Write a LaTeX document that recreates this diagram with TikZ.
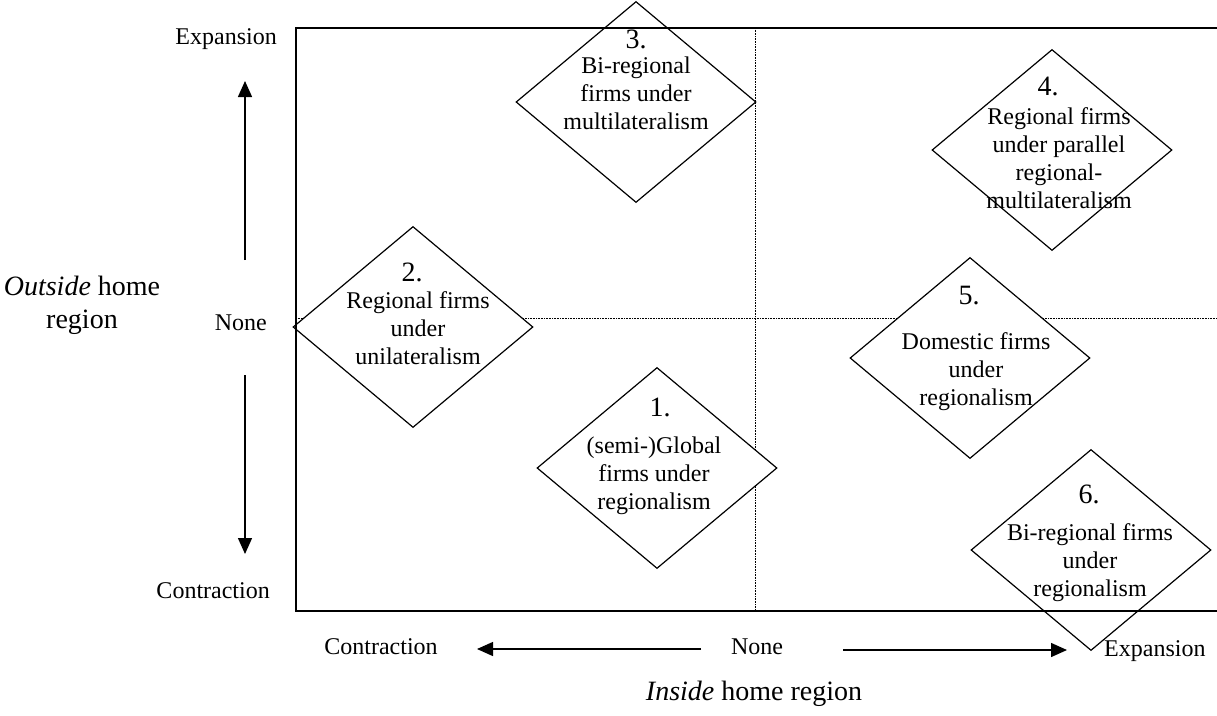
\documentclass[tikz,border=0pt]{standalone}
\usepackage{fontspec}
\setmainfont{Liberation Serif}
\usetikzlibrary{shapes.geometric,arrows.meta}
\begin{document}
\begin{tikzpicture}[x=1pt,y=-1pt,
  dia/.style={draw, diamond, fill=white, minimum width=240pt, minimum height=201pt, inner sep=0pt, line width=1.2pt},
  num/.style={anchor=base, inner sep=0pt, font=\fontsize{28}{30}\selectfont},
  body/.style={anchor=base, align=center, inner sep=0pt, font=\fontsize{24}{28}\selectfont},
  lab/.style={inner sep=0pt, font=\fontsize{24}{28}\selectfont},
  ttl/.style={anchor=base, align=center, inner sep=0pt, font=\fontsize{28}{33}\selectfont},
  grid/.style={line width=0.8pt, dash pattern=on 0.7pt off 0.9pt},
  frame/.style={line width=2pt},
  axarrow/.style={line width=1.4pt, -{Triangle[length=16pt,width=14pt]}}]
\useasboundingbox (0,0) rectangle (1217,715);

% grid coordinates
\coordinate (vt) at (755,28);
\coordinate (vb) at (755,611);
\coordinate (hl) at (296,318);
\coordinate (hr) at (1217,318);
\draw[grid] (vt) -- (vb);
\draw[grid] (hl) -- (hr);

% diamonds
\node[dia] (d1) at (657,468) {};
\node[dia] (d2) at (413,327) {};
\node[dia] (d3) at (636,102) {};
\node[dia] (d4) at (1052,150) {};
\node[dia] (d5) at (970,358) {};
\node[dia] (d6) at (1091,550) {};

% frame (open on the right)
\coordinate (ftr) at (1217,28);
\coordinate (ftl) at (296,28);
\coordinate (fbl) at (296,611);
\coordinate (fbr) at (1217,611);
\draw[frame] (ftr) -- (ftl) -- (fbl) -- (fbr);

% diamond texts (base anchor = baseline of last line)
\node[num]  (n1) at (660,416) {1.};
\node[body] (t1) at (654,509) {(semi-)Global\\firms under\\regionalism};
\node[num]  (n2) at (412,281) {2.};
\node[body] (t2) at (418,364) {Regional firms\\under\\unilateralism};
\node[num]  (n3) at (636,48) {3.};
\node[body] (t3) at (636,129) {Bi-regional\\firms under\\multilateralism};
\node[num]  (n4) at (1048,95) {4.};
\node[body] (t4) at (1059,208) {Regional firms\\under parallel\\regional-\\multilateralism};
\node[num]  (n5) at (969,304) {5.};
\node[body] (t5) at (976,405) {Domestic firms\\under\\regionalism};
\node[num]  (n6) at (1089,503) {6.};
\node[body] (t6) at (1090,596) {Bi-regional firms\\under\\regionalism};

% vertical axis
\node[lab, anchor=base east] (yexp) at (277,44) {Expansion};
\node[lab, anchor=base east] (ynone) at (267,330) {None};
\node[lab, anchor=base east] (ycon) at (270,598) {Contraction};
\coordinate (uat) at (245,260);
\coordinate (uah) at (245,81);
\coordinate (dat) at (245,375);
\coordinate (dah) at (245,554);
\draw[axarrow] (uat) -- (uah);
\draw[axarrow] (dat) -- (dah);
\node[ttl] (ytitle) at (82,328) {\textit{Outside} home\\region};

% horizontal axis
\node[lab, anchor=base] (xcon) at (381,654) {Contraction};
\node[lab, anchor=base] (xnone) at (757,654) {None};
\node[lab, anchor=base west] (xexp) at (1104,656) {Expansion};
\coordinate (lat) at (701,649);
\coordinate (lah) at (477,649);
\coordinate (rat) at (843,650);
\coordinate (rah) at (1067,650);
\draw[axarrow] (lat) -- (lah);
\draw[axarrow] (rat) -- (rah);
\node[ttl] (xtitle) at (754,700) {\textit{Inside} home region};
\end{tikzpicture}
\end{document}
